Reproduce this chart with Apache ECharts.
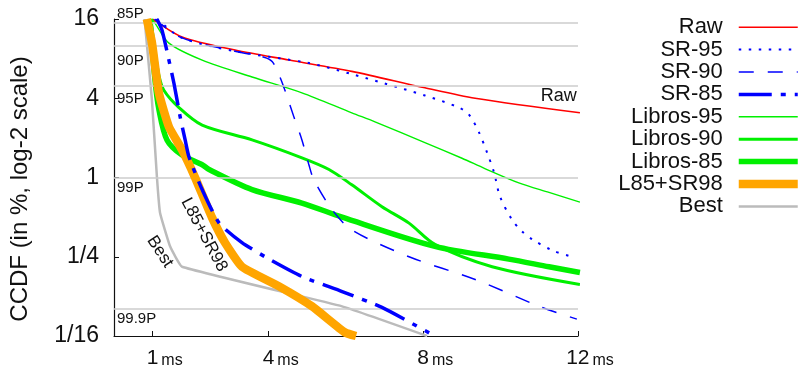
<!DOCTYPE html>
<html><head><meta charset="utf-8">
<script src="https://cdn.jsdelivr.net/npm/echarts@6/dist/echarts.min.js"></script>
<style>html,body{margin:0;padding:0;background:#fff}#c{width:798px;height:369px}</style>
</head><body><div id="c"></div>
<script>
// ---- data (x in ms, y = CCDF in %) ----
const xTicks = [1, 4, 8, 12];
const yTicks = [1/16, 1/4, 1, 4, 16];
const yTickLabels = ['1/16', '1/4', '1', '4', '16'];
const pctValues = [15, 10, 5, 1, 0.1];
const pctLabels = ['85P', '90P', '95P', '99P', '99.9P'];

const raw = [[1.0,16],[1.06,15.5],[1.76,11.7],[3.13,9.3],[4.53,7.8],[6.15,6.4],[8.04,4.8],[9.34,4.0],[12.05,3.1]];
const sr95 = [[1.1,16],[1.16,15.5],[1.76,11.5],[3.13,9.1],[5.04,7.4],[6.15,6.1],[6.98,5.2],[8.04,4.2],[8.92,3.4],[9.18,3.0],[9.44,2.2],[9.65,1.54],[9.83,1.09],[9.98,0.72],[10.29,0.48],[10.55,0.39],[10.81,0.34],[11.33,0.28],[11.84,0.25]];
const sr90 = [[1.05,16],[1.1,15.5],[1.76,11.5],[3.13,9.1],[3.88,8.2],[4.09,7.6],[4.27,6.0],[4.42,4.6],[4.65,2.9],[4.86,1.93],[5.04,1.25],[5.17,0.96],[5.64,0.57],[6.15,0.40],[7.63,0.25],[9.34,0.168],[11.07,0.103],[11.97,0.084]];
const sr85 = [[1.11,16],[1.24,13.2],[1.42,7.8],[1.55,5.2],[1.71,2.9],[1.84,1.93],[1.94,1.43],[2.28,0.81],[2.72,0.45],[3.31,0.32],[4.01,0.24],[4.86,0.177],[5.90,0.136],[6.93,0.103],[8.15,0.066]];
const libros95 = [[0.98,16],[1.06,14.9],[1.42,10.5],[2.28,7.8],[3.57,5.8],[4.86,4.4],[6.15,3.1],[6.75,2.65],[8.04,1.84],[9.0,1.4],[9.59,1.17],[10.47,0.91],[11.25,0.77],[12.05,0.65]];
const libros90 = [[0.95,16],[1.06,9.3],[1.16,6.0],[1.29,4.6],[1.68,3.4],[2.28,2.5],[3.57,1.93],[4.86,1.41],[5.56,1.15],[6.15,0.88],[6.93,0.60],[7.63,0.45],[8.30,0.31],[9.78,0.21],[12.05,0.154]];
const libros85 = [[0.93,16],[1.06,5.5],[1.16,3.3],[1.37,1.93],[1.76,1.48],[2.28,1.25],[2.46,1.15],[3.57,0.81],[4.86,0.64],[5.90,0.50],[8.30,0.30],[10.21,0.24],[11.25,0.21],[12.05,0.19]];
const l85sr98 = [[0.85,16],[0.98,10.6],[1.16,4.4],[1.42,2.43],[1.76,1.62],[2.09,1.01],[2.53,0.50],[2.87,0.32],[3.31,0.21],[4.27,0.149],[5.12,0.105],[5.97,0.0666],[6.26,0.0625]];
const best = [[0.79,16],[0.98,3.9],[1.11,1.01],[1.19,0.54],[1.45,0.30],[1.76,0.21],[5.90,0.105],[8.1,0.0625]];

const seriesNames = ['Raw','SR-95','SR-90','SR-85','Libros-95','Libros-90','Libros-85','L85+SR98','Best'];

const FONT = 'Liberation Sans, Arial, Helvetica, sans-serif';
const chart = echarts.init(document.getElementById('c'));

function textMark(coord, text, size, rotate) {
  return {
    symbol: 'rect', symbolSize: 1, silent: true, animation: false,
    itemStyle: { color: 'rgba(0,0,0,0)' },
    data: [{ coord, label: { show: true, formatter: text, color: '#111', fontSize: size, fontFamily: FONT, rotate: rotate || 0, position: 'inside' } }]
  };
}

function mkSeries(name, data, color, width, type, smooth, z, extra) {
  return Object.assign({
    name, type: 'line', data, symbol: 'none', smooth: smooth, z: z,
    lineStyle: { color, width, type: type || 'solid', cap: 'butt', join: 'round' },
    itemStyle: { color },
    emphasis: { disabled: true }, animation: false
  }, extra || {});
}

const series = [
  mkSeries('Raw', raw, '#ff0000', 1.6, 'solid', 0.3, 3, { markPoint: textMark([11.5, 4.17], 'Raw', 18, 0) }),
  mkSeries('SR-95', sr95, '#0000ff', 2, [2.5, 7.5], 0.3, 4),
  mkSeries('SR-90', sr90, '#0000ff', 1.5, [15, 14], 0.3, 4),
  mkSeries('SR-85', sr85, '#0000ff', 3.5, [33, 9, 5, 9], 0.2, 6),
  mkSeries('Libros-95', libros95, '#00f000', 1.4, 'solid', 0.3, 3),
  mkSeries('Libros-90', libros90, '#00f000', 3, 'solid', 0.3, 3),
  mkSeries('Libros-85', libros85, '#00f000', 5.5, 'solid', 0.3, 3),
  mkSeries('L85+SR98', l85sr98, '#ffa500', 8.5, 'solid', 0.15, 5, { markPoint: textMark([2.33, 0.368], 'L85+SR98', 17, -62) }),
  mkSeries('Best', best, '#bbbbbb', 2.5, 'solid', 0.1, 2, { markPoint: textMark([1.19, 0.273], 'Best', 17, -57) }),
  {
    name: '__grid', type: 'line', data: [], silent: true, z: 1, animation: false,
    markLine: {
      silent: true, symbol: 'none', animation: false,
      lineStyle: { color: '#cccccc', width: 1.5, type: 'solid' },
      label: { show: true, position: 'insideStartBottom', color: '#111', fontSize: 15, fontFamily: FONT },
      data: pctValues.map((v, i) => ({
        yAxis: v,
        label: {
          formatter: pctLabels[i],
          position: i === 0 ? 'insideStartTop' : 'insideStartBottom',
          distance: [3, [1.5, 7, 5.5, 3, 2][i]]
        }
      }))
    }
  }
];

chart.setOption({
  animation: false,
  grid: { left: 112, right: 220, top: 19, bottom: 33, containLabel: false },
  legend: {
    data: seriesNames,
    orient: 'vertical', right: -4, top: 16, align: 'right', padding: 0,
    itemWidth: 59, itemHeight: 14, itemGap: 0,
    lineStyle: { width: 'inherit' },
    itemStyle: { color: 'rgba(0,0,0,0)', borderWidth: 0, opacity: 0 },
    textStyle: { fontSize: 22, fontFamily: FONT, color: '#111', lineHeight: 22.4, padding: [0, 11, 0, 0] },
    selectedMode: false
  },
  xAxis: {
    type: 'value', min: 0, max: 12,
    axisLine: { show: true, lineStyle: { color: '#111', width: 1.2 } },
    axisTick: { show: true, inside: true, length: 5, customValues: xTicks, lineStyle: { color: '#111' } },
    splitLine: { show: false },
    axisLabel: {
      customValues: xTicks, margin: 12,
      formatter: v => '{s|}{n|' + v + '}{u|ms}',
      rich: {
        s: { width: 24 },
        n: { fontSize: 21, fontFamily: FONT, color: '#111' },
        u: { fontSize: 16, fontFamily: FONT, color: '#111', padding: [0, 0, 0, 3], verticalAlign: 'bottom' }
      }
    }
  },
  yAxis: {
    type: 'log', logBase: 2, min: 1/16, max: 16,
    name: 'CCDF (in %, log-2 scale)', nameLocation: 'middle', nameGap: 82,
    nameTextStyle: { fontSize: 24, fontFamily: FONT, color: '#111', padding: [0, 23, 0, 0] },
    axisLine: { show: true, lineStyle: { color: '#111', width: 1.2 } },
    axisTick: { show: true, inside: true, length: 5, customValues: yTicks, lineStyle: { color: '#111' } },
    splitLine: { show: false },
    minorSplitLine: { show: false },
    axisLabel: {
      customValues: yTicks, margin: 15, fontSize: 23, fontFamily: FONT, color: '#111',
      formatter: v => { const i = yTicks.findIndex(t => Math.abs(t - v) < 1e-9); return i >= 0 ? yTickLabels[i] : ''; }
    }
  },
  series
});
</script></body></html>
